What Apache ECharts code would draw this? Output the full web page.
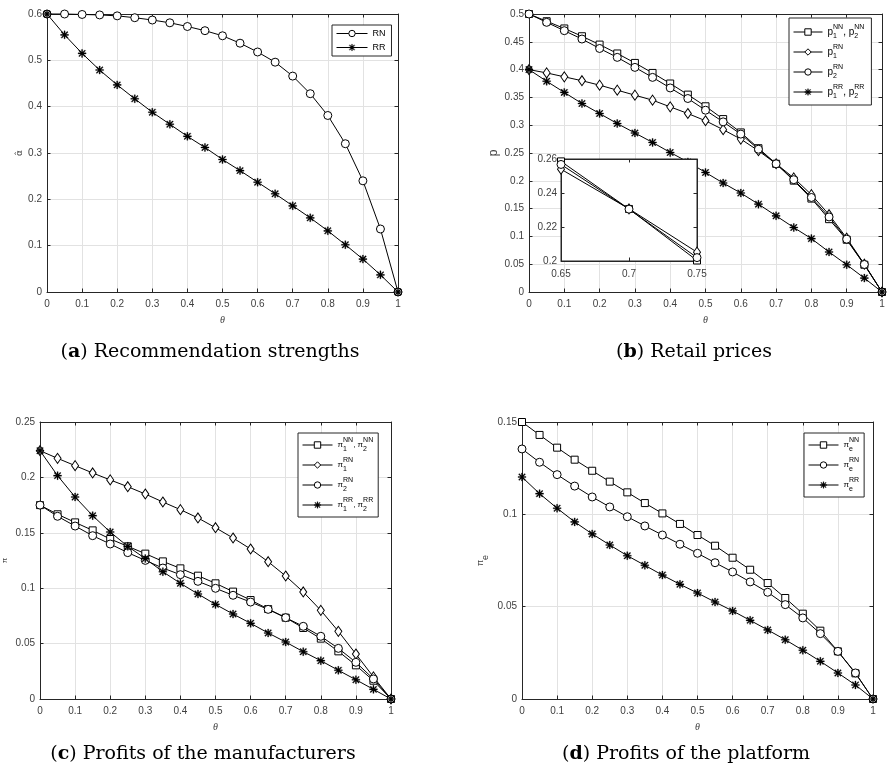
<!DOCTYPE html>
<html><head><meta charset="utf-8">
<script src="https://cdn.jsdelivr.net/npm/echarts@6/dist/echarts.min.js"></script>
<style>html,body{margin:0;padding:0;background:#fff}#c{width:890px;height:778px}</style>
</head><body><div id="c"></div>
<script>
// ---------------- data ----------------
const theta = [0,0.05,0.1,0.15,0.2,0.25,0.3,0.35,0.4,0.45,0.5,0.55,0.6,0.65,0.7,0.75,0.8,0.85,0.9,0.95,1];

// (a) recommendation strengths
const alphaRN = [0.600,0.600,0.599,0.598,0.596,0.592,0.587,0.581,0.573,0.564,0.553,0.537,0.518,0.496,0.466,0.428,0.381,0.320,0.240,0.136,0];
const alphaRR = [0.600,0.555,0.515,0.479,0.447,0.417,0.388,0.362,0.336,0.312,0.286,0.262,0.237,0.212,0.186,0.160,0.132,0.102,0.071,0.037,0];

// (b) retail prices
const pNN  = [0.500,0.487,0.474,0.460,0.445,0.429,0.412,0.394,0.375,0.355,0.334,0.311,0.287,0.2586,0.2306,0.2003,0.168,0.131,0.094,0.049,0];
const pRN1 = [0.400,0.394,0.387,0.380,0.372,0.363,0.354,0.345,0.333,0.321,0.308,0.292,0.275,0.2540,0.2307,0.2052,0.175,0.139,0.097,0.050,0];
const pRN2 = [0.500,0.485,0.470,0.455,0.438,0.422,0.404,0.386,0.367,0.348,0.327,0.306,0.284,0.2568,0.2305,0.2020,0.170,0.135,0.095,0.0495,0];
const pRR  = [0.400,0.379,0.359,0.339,0.321,0.303,0.286,0.269,0.251,0.234,0.215,0.196,0.178,0.158,0.137,0.116,0.096,0.072,0.049,0.025,0];

// (c) manufacturers' profits
const piNN  = [0.175,0.1667,0.1594,0.1522,0.1444,0.1378,0.1312,0.1242,0.1179,0.1113,0.1044,0.0969,0.0893,0.0812,0.0734,0.0641,0.0545,0.0430,0.0304,0.0165,0];
const piRN1 = [0.2241,0.2172,0.2106,0.2040,0.1977,0.1916,0.1850,0.1778,0.1709,0.1634,0.1546,0.1453,0.1354,0.1239,0.1110,0.0966,0.0800,0.0611,0.0406,0.0199,0];
const piRN2 = [0.175,0.1649,0.1561,0.1474,0.1399,0.1321,0.1251,0.1182,0.1122,0.1062,0.0999,0.0936,0.0875,0.0809,0.0734,0.0656,0.0566,0.0457,0.0331,0.0181,0];
const piRR  = [0.2241,0.2016,0.1823,0.1655,0.1507,0.1378,0.1267,0.1149,0.1044,0.0948,0.0854,0.0767,0.0683,0.0596,0.0514,0.0427,0.0346,0.0259,0.0174,0.0087,0];

// (d) platform profits
const peNN = [0.150,0.1430,0.1361,0.1296,0.1236,0.1177,0.1119,0.1061,0.1005,0.0948,0.0888,0.0830,0.0765,0.0700,0.0628,0.0547,0.0462,0.0370,0.0258,0.0139,0];
const peRN = [0.1354,0.1282,0.1215,0.1153,0.1094,0.1040,0.0987,0.0937,0.0888,0.0838,0.0789,0.0738,0.0688,0.0634,0.0578,0.0511,0.0439,0.0354,0.0258,0.0141,0];
const peRR = [0.1202,0.1112,0.1033,0.0959,0.0894,0.0834,0.0776,0.0724,0.0671,0.0621,0.0574,0.0525,0.0477,0.0426,0.0374,0.0321,0.0264,0.0204,0.0141,0.0076,0];

// tick values
const xTicks      = [0,0.1,0.2,0.3,0.4,0.5,0.6,0.7,0.8,0.9,1];
const yTicksA     = [0,0.1,0.2,0.3,0.4,0.5,0.6];
const yTicksB     = [0,0.05,0.1,0.15,0.2,0.25,0.3,0.35,0.4,0.45,0.5];
const yTicksC     = [0,0.05,0.1,0.15,0.2,0.25];
const yTicksD     = [0,0.05,0.1,0.15];
const xTicksInset = [0.65,0.7,0.75];
const yTicksInset = [0.2,0.22,0.24,0.26];
const insetIdx    = [13,14,15];

// texts
const captionLetters = ['a','b','c','d'];
const captionTexts = ['Recommendation strengths','Retail prices','Profits of the manufacturers','Profits of the platform'];
const legendA = {a_RN:'RN', a_RR:'RR'};
const legendB = {b_NN:'{m|p}{s|1}{u|NN}{m|, p}{s|2}{u|NN}', b_RN1:'{m|p}{s|1}{u|RN}', b_RN2:'{m|p}{s|2}{u|RN}', b_RR:'{m|p}{s|1}{u|RR}{m|, p}{s|2}{u|RR}'};
const legendC = {c_NN:'{m|π}{s|1}{u|NN}{m|, π}{s|2}{u|NN}', c_RN1:'{m|π}{s|1}{u|RN}', c_RN2:'{m|π}{s|2}{u|RN}', c_RR:'{m|π}{s|1}{u|RR}{m|, π}{s|2}{u|RR}'};
const legendD = {d_NN:'{m|π}{s|e}{u|NN}', d_RN:'{m|π}{s|e}{u|RN}', d_RR:'{m|π}{s|e}{u|RR}'};

// ---------------- styling / helpers ----------------
const SANS = 'Liberation Sans', SERIF = 'DejaVu Serif';
const AX = '#262626', LBL = '#404040', GRIDC = '#e2e2e2';
const STAR = 'path://M0 8.6L20 8.6L20 11.4L0 11.4Z M8.6 0L11.4 0L11.4 20L8.6 20Z M1.3 3.2L3.2 1.3L18.7 16.8L16.8 18.7Z M16.8 1.3L18.7 3.2L3.2 18.7L1.3 16.8Z';
const SYM = {
  circle:{symbol:'circle', size:8},
  rect:{symbol:'rect', size:7},
  diamond:{symbol:'diamond', size:[7,10]},
  star:{symbol:STAR, size:8}
};
const isStar = name => /RR$/.test(name);
function fmt(v){ return String(Math.round(v*10000)/10000); }
function rng(t){ return {min:t[0], max:t[t.length-1], interval:+(t[1]-t[0]).toFixed(6)}; }

function xAxes(gi, ticks, o){
  const r = rng(ticks);
  return [
    Object.assign({type:'value', gridIndex:gi, position:'bottom'}, r, {
      axisLine:{show:true,onZero:false,lineStyle:{color:AX,width:1}},
      axisTick:{show:true,inside:true,length:3.5,lineStyle:{color:AX}},
      axisLabel:{show:true,color:LBL,fontSize:10,fontFamily:SANS,margin:o.margin||7,formatter:fmt},
      splitLine:{show:!!o.grid,lineStyle:{color:GRIDC,width:1}},
      name:o.name||'', nameLocation:'middle', nameGap:o.nameGap||23,
      nameTextStyle:{color:LBL,fontSize:10,fontFamily:'Liberation Serif',fontStyle:'italic'},
      z:o.z||0
    }),
    Object.assign({type:'value', gridIndex:gi, position:'top'}, r, {
      axisLine:{show:true,onZero:false,lineStyle:{color:AX,width:1}},
      axisTick:{show:true,inside:true,length:3.5,lineStyle:{color:AX}},
      axisLabel:{show:false}, splitLine:{show:false}, z:o.z||0
    })
  ];
}
function yAxes(gi, ticks, o){
  const r = rng(ticks);
  return [
    Object.assign({type:'value', gridIndex:gi, position:'left'}, r, {
      axisLine:{show:true,onZero:false,lineStyle:{color:AX,width:1}},
      axisTick:{show:true,inside:true,length:3.5,lineStyle:{color:AX}},
      axisLabel:{show:true,color:LBL,fontSize:10,fontFamily:SANS,margin:o.margin||5,formatter:fmt},
      splitLine:{show:!!o.grid,lineStyle:{color:GRIDC,width:1}},
      name:o.name||'', nameLocation:'middle', nameRotate:90, nameGap:o.nameGap||25,
      nameTextStyle:o.nameStyle||{}, z:o.z||0
    }),
    Object.assign({type:'value', gridIndex:gi, position:'right'}, r, {
      axisLine:{show:true,onZero:false,lineStyle:{color:AX,width:1}},
      axisTick:{show:true,inside:true,length:3.5,lineStyle:{color:AX}},
      axisLabel:{show:false}, splitLine:{show:false}, z:o.z||0
    })
  ];
}
function ser(name, gi, xs, ys, kind, z){
  const s = SYM[kind];
  const star = kind === 'star';
  return {
    type:'line', name, xAxisIndex:2*gi, yAxisIndex:2*gi,
    data: xs.map((x,i)=>[x, ys[i]]),
    symbol:s.symbol, symbolSize:s.size, showSymbol:true, clip:false,
    lineStyle:{color:'#000',width:1},
    itemStyle:{color: star ? '#000' : '#fff', borderColor:'#000', borderWidth: star ? 0.3 : 1},
    emphasis:{disabled:true}, silent:true, z:z||2
  };
}
function richFor(base, small){
  return {
    m:{fontSize:base,fontFamily:SANS,color:'#000',lineHeight:16,verticalAlign:'middle'},
    s:{fontSize:small,fontFamily:SANS,color:'#000',lineHeight:8,verticalAlign:'bottom',width:0},
    u:{fontSize:small,fontFamily:SANS,color:'#000',lineHeight:8,verticalAlign:'top'}
  };
}
function legend(map, left, top, pad, itemW, itemH, gap, base, small){
  return {
    data:Object.keys(map).map(n=>({name:n, itemStyle:{borderWidth:isStar(n)?0.3:1, borderColor:'#000', color:isStar(n)?'#000':'#fff'}})),
    orient:'vertical', left, top, padding:pad,
    backgroundColor:'#fff', borderColor:AX, borderWidth:1, borderRadius:0,
    itemWidth:itemW, itemHeight:itemH, itemGap:gap, selectedMode:false,
    lineStyle:{width:1, color:'#000'},
    formatter:n=>map[n],
    textStyle:{fontSize:base,fontFamily:SANS,color:'#000',rich:richFor(base,small)}
  };
}

const insetX = insetIdx.map(i=>theta[i]);
const pick = arr => insetIdx.map(i=>arr[i]);

const option = {
  animation:false, backgroundColor:'#fff',
  grid:[
    {left:47, top:14, width:351, height:278},
    {left:529, top:14, width:353, height:278},
    {left:38, top:422, width:353, height:277},
    {left:522, top:422, width:351, height:277},
    {left:561, top:159, width:136, height:102, show:true, backgroundColor:'#fff', borderColor:AX, borderWidth:1, z:10}
  ],
  xAxis:[].concat(
    xAxes(0,xTicks,{grid:true,name:'θ'}),
    xAxes(1,xTicks,{grid:true,name:'θ'}),
    xAxes(2,xTicks,{grid:true,name:'θ'}),
    xAxes(3,xTicks,{grid:true,name:'θ'}),
    xAxes(4,xTicksInset,{grid:false,margin:8,z:11})
  ),
  yAxis:[].concat(
    yAxes(0,yTicksA,{grid:true,name:'α̂',nameGap:22,nameStyle:{color:LBL,fontSize:9,fontFamily:'DejaVu Sans'}}),
    yAxes(1,yTicksB,{grid:true,name:'p',nameGap:29,nameStyle:{color:LBL,fontSize:12,fontFamily:SANS}}),
    yAxes(2,yTicksC,{grid:true,name:'π',nameGap:31,nameStyle:{color:LBL,fontSize:8,fontFamily:SANS}}),
    yAxes(3,yTicksD,{grid:true,name:'{p|π}{e|e}',nameGap:32,nameStyle:{color:LBL,fontSize:9,fontFamily:SANS,rich:{
      p:{fontSize:9,fontFamily:SANS,color:LBL,lineHeight:14,verticalAlign:'top'},
      e:{fontSize:9,fontFamily:SANS,color:LBL,lineHeight:14,verticalAlign:'bottom'}}}}),
    yAxes(4,yTicksInset,{grid:false,margin:4,z:11})
  ),
  legend:[
    legend(legendA, 332, 25, [4,6,4,4], 31, 8, 5, 9, 7),
    legend(legendB, 789, 18, [6,7,5,4], 29, 8, 4, 10, 7),
    legend(legendC, 298, 433, [4,5,4,4], 30, 8, 4, 8, 7),
    legend(legendD, 804, 433, [4,5,4,4], 30, 8, 4, 8, 7)
  ],
  series:[
    ser('a_RN',0,theta,alphaRN,'circle'),
    ser('a_RR',0,theta,alphaRR,'star'),
    ser('b_NN',1,theta,pNN,'rect'),
    ser('b_RN1',1,theta,pRN1,'diamond'),
    ser('b_RN2',1,theta,pRN2,'circle'),
    ser('b_RR',1,theta,pRR,'star'),
    ser('c_NN',2,theta,piNN,'rect'),
    ser('c_RN1',2,theta,piRN1,'diamond'),
    ser('c_RN2',2,theta,piRN2,'circle'),
    ser('c_RR',2,theta,piRR,'star'),
    ser('d_NN',3,theta,peNN,'rect'),
    ser('d_RN',3,theta,peRN,'circle'),
    ser('d_RR',3,theta,peRR,'star'),
    ser('i_NN',4,insetX,pick(pNN),'rect',12),
    ser('i_RN1',4,insetX,pick(pRN1),'diamond',12),
    ser('i_RN2',4,insetX,pick(pRN2),'circle',12)
  ],
  graphic: [[210,352],[694,352],[203,754],[686,754]].map((p,i)=>({
    type:'text', x:p[0], y:p[1], silent:true,
    style:{
      text:'({b|'+captionLetters[i]+'}) '+captionTexts[i],
      fontSize:19, fontFamily:SERIF, fill:'#000', align:'center', verticalAlign:'middle',
      rich:{b:{fontSize:19,fontFamily:SERIF,fontWeight:'bold',fill:'#000'}}
    }
  }))
};
const chart = echarts.init(document.getElementById('c'), null, {renderer:'canvas'});
chart.setOption(option);
</script></body></html>
